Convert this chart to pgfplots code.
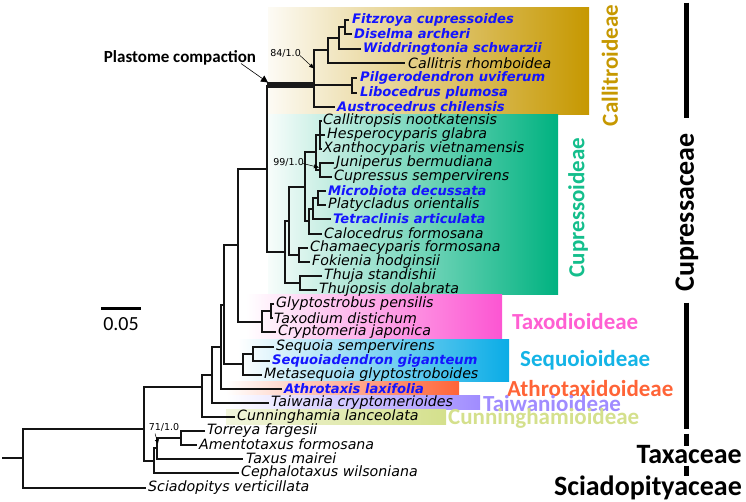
\documentclass[border=0pt]{standalone}
\usepackage{pgfplots}
\pgfplotsset{compat=1.18}
\usetikzlibrary{arrows.meta}
\usepackage{fontspec}
\setmainfont{DejaVu Sans}
\newfontfamily\dv{DejaVu Sans}[ItalicFont={DejaVu Sans Oblique}, BoldFont={DejaVu Sans Bold}, BoldItalicFont={DejaVu Sans Bold Oblique}]
\newfontfamily\cb{Carlito}
\definecolor{tblue}{RGB}{20,20,255}
\definecolor{callc}{RGB}{198,152,0}
\definecolor{cupc}{RGB}{0,178,128}
\definecolor{taxc}{RGB}{252,85,210}
\definecolor{seqc}{RGB}{10,172,230}
\definecolor{athc}{RGB}{255,100,55}
\definecolor{taic}{RGB}{160,140,255}
\definecolor{cunc}{RGB}{212,224,140}
\definecolor{cuplab}{RGB}{20,190,140}
\definecolor{taxlab}{RGB}{255,95,210}
\definecolor{seqlab}{RGB}{20,180,230}
\newcommand\tlab[1]{{\fontsize{14.2}{14.2}\selectfont\dv\itshape #1}}
\newcommand\tblab[1]{{\fontsize{13.1}{13.1}\selectfont\dv\bfseries\itshape\color{tblue}#1}}
\newcommand\sublab[2]{{\fontsize{23}{23}\selectfont\cb\bfseries\color{#1}#2}}
\newcommand\famlab[1]{{\fontsize{28}{28}\selectfont\cb\bfseries #1}}
\newcommand\suplab[1]{{\fontsize{9.5}{9.5}\selectfont\dv #1}}
\begin{document}
\begin{tikzpicture}
\begin{axis}[
  scale only axis, width=746pt, height=501pt,
  xmin=0, xmax=746, ymin=0, ymax=501, y dir=reverse,
  hide axis, clip=false, unbounded coords=jump]
% invisible frame for bounding box
\addplot[draw=none] coordinates {(0,0) (746,501)};
% clade background boxes
\addplot[draw=none, left color=callc!4, middle color=callc!30, right color=callc] coordinates {(268,7) (589,7) (589,114) (268,114)};
\addplot[draw=none, left color=cupc!3, middle color=cupc!30, right color=cupc] coordinates {(268,114) (558,114) (558,294) (268,294)};
\addplot[draw=none, left color=white, middle color=taxc!25, right color=taxc] coordinates {(246,294) (502,294) (502,339) (246,339)};
\addplot[draw=none, left color=white, middle color=seqc!25, right color=seqc] coordinates {(238,339) (509,339) (509,381) (238,381)};
\addplot[draw=none, left color=white, middle color=athc!25, right color=athc] coordinates {(226,381) (459,381) (459,395) (226,395)};
\addplot[draw=none, left color=white, middle color=taic!30, right color=taic] coordinates {(226,395) (480,395) (480,409) (226,409)};
\addplot[draw=none, left color=cunc!30, middle color=cunc!70, right color=cunc] coordinates {(226,409) (446,409) (446,424) (226,424)};
% tree branches
\addplot[black!92, line width=2pt, line join=miter] coordinates {
(349,19) (345,19) (345,33.5) (352,33.5) (nan,nan)
(345,26.25) (339,26.25) (339,48) (361,48) (nan,nan)
(339,37) (328,37) (328,62.5) (405,62.5) (nan,nan)
(357,77.5) (352,77.5) (352,92) (357,92) (nan,nan)
(328,49.75) (314,49.75) (314,106.5) (335,106.5) (nan,nan)
(314,84.75) (352,84.75) (nan,nan)
(322,120.5) (320,120.5) (320,148) (322,148) (nan,nan)
(320,134.5) (325,134.5) (nan,nan)
(334,162) (320,162) (320,176) (332,176) (nan,nan)
(320,134.5) (316,134.5) (316,169) (320,169) (nan,nan)
(326,190.5) (318,190.5) (318,204.5) (326,204.5) (nan,nan)
(318,197.5) (313,197.5) (313,218.5) (331,218.5) (nan,nan)
(313,208) (309,208) (309,233) (322,233) (nan,nan)
(316,151.75) (305,151.75) (305,220.5) (309,220.5) (nan,nan)
(308,247.5) (299,247.5) (299,261.5) (310,261.5) (nan,nan)
(305,186) (289,186) (289,254.5) (299,254.5) (nan,nan)
(322,275.5) (300,275.5) (300,289.5) (317,289.5) (nan,nan)
(289,220.25) (285,220.25) (285,282.5) (300,282.5) (nan,nan)
(267,84.75) (267,251.4) (285,251.4) (nan,nan)
(267,168) (238,168) (238,321) (262,321) (nan,nan)
(274,303.5) (271,303.5) (271,317.5) (273,317.5) (nan,nan)
(271,310.5) (262,310.5) (262,331.5) (276,331.5) (nan,nan)
(274,346) (253,346) (253,360) (270,360) (nan,nan)
(253,353) (243,353) (243,374) (262,374) (nan,nan)
(238,244.5) (224,244.5) (224,363.5) (243,363.5) (nan,nan)
(224,304) (221,304) (221,388) (282,388) (nan,nan)
(221,346) (212,346) (212,402) (269,402) (nan,nan)
(212,374) (202,374) (202,416) (235,416) (nan,nan)
(205,430.5) (181,430.5) (181,444) (197,444) (nan,nan)
(181,437) (157,437) (157,458) (243,458) (nan,nan)
(157,447.5) (154,447.5) (154,472) (239,472) (nan,nan)
(202,386) (144,386) (144,460) (154,460) (nan,nan)
(144,428) (23,428) (23,487) (146,487) (nan,nan)
(2,457) (23,457)
};
% plastome compaction thick stem
\addplot[black!90, line width=6pt] coordinates {(267,84.75) (314,84.75)};
% arrows
\addplot[black, line width=0.6pt, -{Triangle[length=7pt,width=7pt]}] coordinates {(241,63) (268,82)};
\addplot[black, line width=0.5pt, -{Triangle[length=5pt,width=4pt]}] coordinates {(300,55) (314,68)};
\addplot[black, line width=0.5pt, -{Triangle[length=5pt,width=4pt]}] coordinates {(303,163) (319,167)};
\addplot[black, line width=0.5pt, -{Triangle[length=4pt,width=4pt]}] coordinates {(155,433) (158,443)};
% scale bar
\addplot[black, line width=3pt] coordinates {(101,308) (141,308)};
% family bars
\addplot[black, line width=5pt] coordinates {(686,2) (686,117) (nan,nan) (686,302) (686,428) (nan,nan) (686,433) (686,445) (nan,nan) (686,465) (686,475)};
% taxon labels
\node[anchor=west, inner sep=0] at (352,19) {\tblab{Fitzroya cupressoides}};
\node[anchor=west, inner sep=0] at (354,33.5) {\tblab{Diselma archeri}};
\node[anchor=west, inner sep=0] at (363,48) {\tblab{Widdringtonia schwarzii}};
\node[anchor=west, inner sep=0] at (408,62.5) {\tlab{Callitris rhomboidea}};
\node[anchor=west, inner sep=0] at (360,77.5) {\tblab{Pilgerodendron uviferum}};
\node[anchor=west, inner sep=0] at (360,92) {\tblab{Libocedrus plumosa}};
\node[anchor=west, inner sep=0] at (337,106.5) {\tblab{Austrocedrus chilensis}};
\node[anchor=west, inner sep=0] at (323,120.5) {\tlab{Callitropsis nootkatensis}};
\node[anchor=west, inner sep=0] at (327,134.5) {\tlab{Hesperocyparis glabra}};
\node[anchor=west, inner sep=0] at (323,148) {\tlab{Xanthocyparis vietnamensis}};
\node[anchor=west, inner sep=0] at (336,162) {\tlab{Juniperus bermudiana}};
\node[anchor=west, inner sep=0] at (334,176) {\tlab{Cupressus sempervirens}};
\node[anchor=west, inner sep=0] at (328,190.5) {\tblab{Microbiota decussata}};
\node[anchor=west, inner sep=0] at (328,204.5) {\tlab{Platycladus orientalis}};
\node[anchor=west, inner sep=0] at (333,218.5) {\tblab{Tetraclinis articulata}};
\node[anchor=west, inner sep=0] at (324,233) {\tlab{Calocedrus formosana}};
\node[anchor=west, inner sep=0] at (310,247.5) {\tlab{Chamaecyparis formosana}};
\node[anchor=west, inner sep=0] at (312,261.5) {\tlab{Fokienia hodginsii}};
\node[anchor=west, inner sep=0] at (324,275.5) {\tlab{Thuja standishii}};
\node[anchor=west, inner sep=0] at (319,289.5) {\tlab{Thujopsis dolabrata}};
\node[anchor=west, inner sep=0] at (276,303.5) {\tlab{Glyptostrobus pensilis}};
\node[anchor=west, inner sep=0] at (274,317.5) {\tlab{Taxodium distichum}};
\node[anchor=west, inner sep=0] at (278,331.5) {\tlab{Cryptomeria japonica}};
\node[anchor=west, inner sep=0] at (276,346) {\tlab{Sequoia sempervirens}};
\node[anchor=west, inner sep=0] at (272,360) {\tblab{Sequoiadendron giganteum}};
\node[anchor=west, inner sep=0] at (264,374) {\tlab{Metasequoia glyptostroboides}};
\node[anchor=west, inner sep=0] at (284,388) {\tblab{Athrotaxis laxifolia}};
\node[anchor=west, inner sep=0] at (271,402) {\tlab{Taiwania cryptomerioides}};
\node[anchor=west, inner sep=0] at (237,416) {\tlab{Cunninghamia lanceolata}};
\node[anchor=west, inner sep=0] at (207,430.5) {\tlab{Torreya fargesii}};
\node[anchor=west, inner sep=0] at (199,444) {\tlab{Amentotaxus formosana}};
\node[anchor=west, inner sep=0] at (246,458) {\tlab{Taxus mairei}};
\node[anchor=west, inner sep=0] at (241,472) {\tlab{Cephalotaxus wilsoniana}};
\node[anchor=west, inner sep=0] at (148,487) {\tlab{Sciadopitys verticillata}};
% support values
\node[anchor=east, inner sep=0] at (301,53) {\suplab{84/1.0}};
\node[anchor=east, inner sep=0] at (304,162) {\suplab{99/1.0}};
\node[anchor=center, inner sep=0] at (164,427) {\suplab{71/1.0}};
% annotations
\node[anchor=center, inner sep=0] at (180,57) {{\fontsize{17}{17}\selectfont\cb\bfseries Plastome compaction}};
\node[anchor=center, inner sep=0] at (121,324) {{\fontsize{20}{20}\selectfont\cb 0.05}};
% subfamily labels
\node[anchor=center, inner sep=0, rotate=90] at (610,65) {\sublab{callc}{Callitroideae}};
\node[anchor=center, inner sep=0, rotate=90] at (578,207) {\sublab{cuplab}{Cupressoideae}};
\node[anchor=west, inner sep=0] at (512,321) {\sublab{taxlab}{Taxodioideae}};
\node[anchor=west, inner sep=0] at (520,360) {\sublab{seqlab}{Sequoioideae}};
\node[anchor=west, inner sep=0] at (507,388) {\sublab{athc}{Athrotaxidoideae}};
\node[anchor=west, inner sep=0] at (483,403) {\sublab{taic}{Taiwanioideae}};
\node[anchor=west, inner sep=0] at (448,418) {\sublab{cunc}{Cunninghamioideae}};
% family labels
\node[anchor=center, inner sep=0, rotate=90] at (687,212) {\famlab{Cupressaceae}};
\node[anchor=east, inner sep=0] at (742,454) {\famlab{Taxaceae}};
\node[anchor=east, inner sep=0] at (742,487) {\famlab{Sciadopityaceae}};
\end{axis}
\end{tikzpicture}
\end{document}
